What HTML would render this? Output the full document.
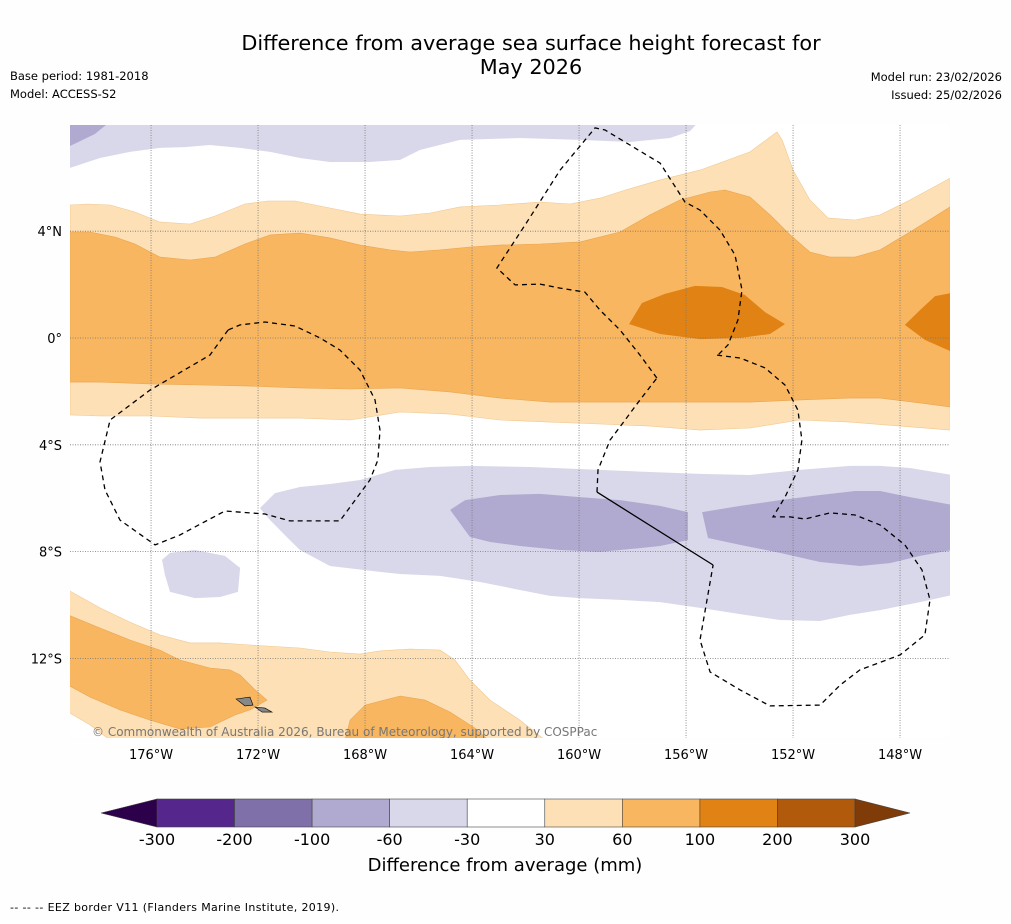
<!DOCTYPE html>
<html><head><meta charset="utf-8"><style>
body{margin:0;background:#fff;font-family:"Liberation Sans","DejaVu Sans",sans-serif}
svg text{font-family:"DejaVu Sans","Liberation Sans",sans-serif}
</style></head><body>
<svg id="c" width="1011" height="919" viewBox="0 0 1011 919" xmlns="http://www.w3.org/2000/svg">
<rect width="1011" height="919" fill="#fefefe"/>
<text x="531" y="50" font-size="20.8" text-anchor="middle">Difference from average sea surface height forecast for</text>
<text x="531" y="74" font-size="20.8" text-anchor="middle">May 2026</text>
<text x="10" y="80" font-size="11.5">Base period: 1981-2018</text>
<text x="10" y="98" font-size="11.5">Model: ACCESS-S2</text>
<text x="1002" y="81" font-size="11.5" text-anchor="end">Model run: 23/02/2026</text>
<text x="1002" y="99" font-size="11.5" text-anchor="end">Issued: 25/02/2026</text>
<defs><clipPath id="mapclip"><rect x="70" y="125" width="880" height="613"/></clipPath></defs>
<g id="map" clip-path="url(#mapclip)"></g>
<g id="axes"></g>
<g id="cbar"></g>
<text x="505" y="871" font-size="18" text-anchor="middle">Difference from average (mm)</text>
<text x="10" y="911" font-size="11" textLength="329">--  --  -- EEZ border V11 (Flanders Marine Institute, 2019).</text>
</svg>
<script>
// axis data
const lonTicks=[176,172,168,164,160,156,152,148];
const latTicks=[4,0,-4,-8,-12];
const cbLevels=[-300,-200,-100,-60,-30,30,60,100,200,300];
const cbColors=["#55268b","#7f70aa","#b1aad0","#d8d8ea","#ffffff","#fde0b6","#f9b660","#e08214","#b15a0c"];
const cbExtColors=["#2d004b","#7f3b08"];
// pixel mapping helpers
const X0=70,LONW0=179.03,PXD=26.75,Y0=338,PYD=26.7;
function px(lonW){return X0+(LONW0-lonW)*PXD;}
function py(lat){return Y0-lat*PYD;}
function g(pts){return pts.map(p=>[+(LONW0-(p[0]-X0)/PXD).toFixed(2),+((Y0-p[1])/PYD).toFixed(2)]);}
// contour polygons (stored as lon/lat)
const lightOrangeNorth=g([[70,205],[88,204],[110,205],[135,212],[160,222],[190,224],[215,216],[245,204],[268,201],[295,201],[330,208],[360,214],[400,216],[430,213],[460,207],[500,205],[540,202],[570,204],[600,198],[625,190],[660,180],[700,170],[750,152],[777,132],[782,140],[793,170],[810,200],[828,218],[855,220],[880,215],[910,200],[950,178],[950,430],[900,426],[850,422],[800,420],[750,428],[700,430],[650,426],[600,424],[550,422],[500,420],[450,414],[400,412],[350,420],[300,418],[250,418],[200,418],[150,416],[100,416],[70,415]]);
const orangeNorth=g([[70,232],[90,232],[115,237],[135,244],[160,257],[190,260],[215,257],[245,244],[270,235],[300,233],[330,238],[360,245],[390,250],[410,252],[440,250],[470,247],[500,245],[540,244],[580,242],[620,232],[650,215],[680,200],[710,192],[725,190],[750,197],[770,215],[790,235],[810,252],[830,257],[855,257],[880,250],[910,232],[950,207],[950,407],[920,403],[880,398],[850,398],[800,400],[750,402],[700,402],[650,402],[600,402],[550,402],[500,398],[450,392],[400,388],[350,389],[300,388],[250,386],[200,385],[150,384],[100,382],[70,382]]);
const darkOrangeA=g([[629,324],[642,303],[665,294],[695,286],[722,287],[745,295],[765,312],[785,324],[770,334],[740,338],[700,339],[660,334]]);
const darkOrangeB=g([[952,293],[935,296],[920,310],[905,325],[925,340],[952,352]]);
const purpleTop=g([[70,120],[700,120],[690,131],[670,138],[630,142],[580,140],[520,138],[460,140],[420,150],[400,160],[370,162],[330,162],[300,158],[270,152],[240,148],[210,145],[185,147],[160,148],[130,152],[100,158],[70,168]]);
const purpleTopMed=g([[70,120],[112,120],[95,134],[70,146]]);
const purpleSouth=g([[260,508],[275,493],[300,487],[330,484],[360,480],[395,470],[430,467],[470,466],[530,467],[600,470],[650,472],[700,474],[750,475],[800,470],[850,466],[880,466],[910,468],[952,475],[952,595],[920,602],[880,610],[850,615],[820,621],[780,620],[740,614],[700,608],[660,602],[620,600],[580,598],[550,596],[520,590],[480,582],[440,576],[400,574],[380,572],[330,566],[300,550],[290,540],[270,520]]);
const purpleSmall=g([[162,560],[170,553],[195,550],[225,556],[240,568],[238,592],[220,597],[195,598],[170,592],[165,575]]);
const purpleMedA=g([[450,510],[465,500],[500,495],[540,494],[580,497],[620,500],[660,506],[688,512],[688,540],[660,546],[640,548],[600,552],[560,550],[520,546],[490,542],[470,537]]);
const purpleMedB=g([[702,512],[740,506],[780,500],[820,495],[855,491],[880,491],[910,497],[952,505],[952,550],[920,556],[890,563],[860,566],[820,562],[780,553],[740,545],[708,538]]);
const lightOrangeSW=g([[68,590],[100,608],[130,622],[160,635],[190,643],[220,643],[250,645],[300,648],[330,652],[360,654],[380,651],[410,649],[440,650],[455,660],[470,680],[490,700],[520,720],[545,740],[110,740],[90,725],[68,712]]);
const orangeSW=g([[68,615],[100,628],[130,640],[160,650],[180,660],[210,668],[230,670],[240,675],[255,690],[267,700],[250,710],[235,715],[210,727],[180,729],[150,720],[120,710],[90,697],[68,685]]);
const orangeS2=g([[345,740],[350,720],[365,705],[400,696],[425,700],[450,712],[475,728],[488,740]]);
const eezLoop=g([[228,330],[210,355],[150,390],[110,420],[100,462],[105,490],[120,520],[155,545],[180,535],[225,511],[265,514],[290,521],[340,521],[370,480],[378,460],[380,430],[375,400],[360,370],[340,350],[320,338],[295,326],[265,322],[240,325],[228,330]]);
const eezNorth=g([[657,378],[640,355],[620,330],[600,310],[585,292],[560,288],[540,284],[515,285],[497,268],[525,225],[560,170],[595,128],[605,130],[630,145],[660,163],[685,202],[700,210],[720,230],[735,255],[742,290],[738,320],[728,345],[718,355]]);
const eezEast=g([[717,355],[740,358],[765,368],[785,385],[798,410],[802,440],[798,470],[785,497],[773,517],[790,517],[805,519],[830,513],[855,515],[880,525],[905,545],[922,570],[930,600],[925,635],[900,655],[860,670],[840,685],[820,705],[770,706],[740,690],[710,672],[700,640],[713,565]]);
const eezSolid=g([[713,565],[597,492]]);
const eezWest=g([[597,492],[598,470],[610,440],[625,420],[640,400],[657,378]]);
const islands=g([[236,699],[250,697],[253,705],[245,706]]);
const islands2=g([[255,707],[265,708],[272,712],[262,712]]);

const NS="http://www.w3.org/2000/svg";
const map=document.getElementById('map');
function el(t,a,parent){const e=document.createElementNS(NS,t);for(const k in a)e.setAttribute(k,a[k]);(parent||map).appendChild(e);return e;}
function pts(arr){return arr.map(p=>px(p[0]).toFixed(1)+','+py(p[1]).toFixed(1)).join(' ');}
function poly(arr,fill,name,stroke){const e=el('polygon',{points:pts(arr),fill:fill,stroke:stroke||'none','stroke-width':0.6});

}
el('rect',{x:70,y:125,width:880,height:613,fill:'#fff'});
poly(lightOrangeNorth,cbColors[5],'contour-30-60-north','#f0c890');
poly(orangeNorth,cbColors[6],'contour-60-100-north','#e9a550');
poly(darkOrangeA,cbColors[7],'contour-100-200-a');
poly(darkOrangeB,cbColors[7],'contour-100-200-b');
poly(purpleTop,cbColors[3],'contour-neg30-60-top');
poly(purpleTopMed,cbColors[2],'contour-neg60-100-top');
poly(purpleSouth,cbColors[3],'contour-neg30-60-south');
poly(purpleSmall,cbColors[3],'contour-neg30-60-small');
poly(purpleMedA,cbColors[2],'contour-neg60-100-a');
poly(purpleMedB,cbColors[2],'contour-neg60-100-b');
poly(lightOrangeSW,cbColors[5],'contour-30-60-southwest','#f0c890');
poly(orangeSW,cbColors[6],'contour-60-100-southwest','#e9a550');
poly(orangeS2,cbColors[6],'contour-60-100-south','#e9a550');
poly(islands,'#888','samoa-island','#000');
poly(islands2,'#888','samoa-island-2','#000');
lonTicks.forEach(l=>{const e=el('line',{x1:px(l),x2:px(l),y1:125,y2:738,stroke:'#777','stroke-width':0.8,'stroke-dasharray':'1,1.5'});

});
latTicks.forEach(l=>{const e=el('line',{x1:70,x2:950,y1:py(l),y2:py(l),stroke:'#777','stroke-width':0.8,'stroke-dasharray':'1,1.5'});

});
function line(arr,dash,name){const e=el('polyline',{points:pts(arr),fill:'none',stroke:'#000','stroke-width':1.3,'stroke-dasharray':dash});

}
line(eezLoop,'5,4','eez-border-loop');
line(eezNorth,'5,4','eez-border-north');
line(eezEast,'5,4','eez-border-east');
line(eezWest,'5,4','eez-border-west');
line(eezSolid,'none','eez-border-solid');
const cr=el('text',{x:92,y:736,'font-size':12,fill:'#777'});cr.textContent='© Commonwealth of Australia 2026, Bureau of Meteorology, supported by COSPPac';


const ax=document.getElementById('axes');
lonTicks.forEach(l=>{const t=el('text',{x:px(l),y:759,'font-size':13,'text-anchor':'middle'},ax);t.textContent=l+'°W';

});
latTicks.forEach(l=>{const t=el('text',{x:62,y:py(l)+5,'font-size':13,'text-anchor':'end'},ax);t.textContent=l===0?'0°':Math.abs(l)+'°'+(l>0?'N':'S');

});
const cb=document.getElementById('cbar');
const cbX0=157,cbX1=855,cbY=799,cbH=28,segW=(cbX1-cbX0)/cbColors.length;
cbColors.forEach((c,i)=>{const r=el('rect',{x:cbX0+i*segW,y:cbY,width:segW,height:cbH,fill:c,stroke:'#444','stroke-width':0.6},cb);

});
const tl=el('polygon',{points:`${cbX0},${cbY} ${cbX0},${cbY+cbH} 101,${cbY+cbH/2}`,fill:cbExtColors[0],stroke:'#444','stroke-width':0.6},cb);


const tr=el('polygon',{points:`${cbX1},${cbY} ${cbX1},${cbY+cbH} 910,${cbY+cbH/2}`,fill:cbExtColors[1],stroke:'#444','stroke-width':0.6},cb);


cbLevels.forEach((v,i)=>{const t=el('text',{x:cbX0+i*segW,y:845,'font-size':16,'text-anchor':'middle'},cb);t.textContent=v;

});
</script>
</body></html>
